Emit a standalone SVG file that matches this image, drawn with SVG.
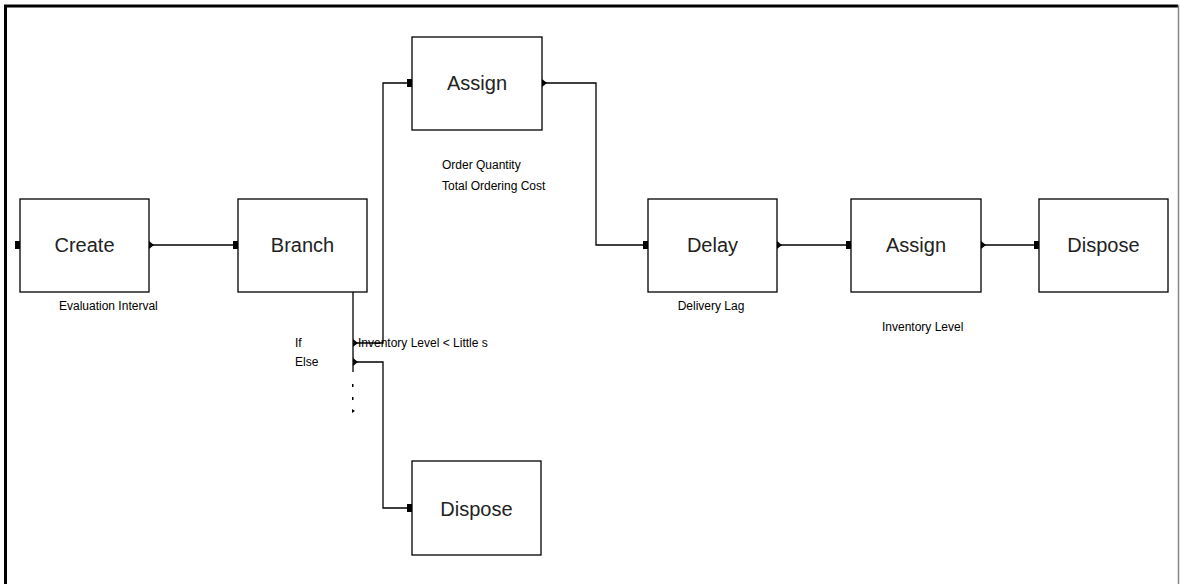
<svg xmlns="http://www.w3.org/2000/svg" width="1180" height="584" viewBox="0 0 1180 584">
<defs>
<style>
.box{fill:#fff;stroke:#000;stroke-width:1.3}
.t{font-family:"Liberation Sans",Arial,sans-serif;font-size:20px;fill:#222;text-anchor:middle}
.l{font-family:"Liberation Sans",Arial,sans-serif;font-size:12px;fill:#000}
.c{fill:none;stroke:#000;stroke-width:1.3}
.in{fill:#000}
</style>
</defs>
<rect width="1180" height="584" fill="#fff"/>
<path d="M5.5,584 V6 H1178" fill="none" stroke="#000" stroke-width="3"/>
<line x1="1178.5" y1="5" x2="1178.5" y2="584" stroke="#888" stroke-width="1.5"/>

<g id="connectors">
<path class="c" d="M149,245 H233"/>
<path class="c" d="M777,245 H846"/>
<path class="c" d="M981,245 H1034"/>
<path class="c" d="M542,83 H596 V245 H643"/>
<path class="c" d="M353,292 V372"/>
<path class="c" d="M356,343 H383 V83 H407"/>
<path class="c" d="M356,362 H383 V508 H407"/>
<path d="M149,241 L154,245 L149,249 Z" class="in"/>
<path d="M777,241 L782,245 L777,249 Z" class="in"/>
<path d="M981,241 L986,245 L981,249 Z" class="in"/>
<path d="M542,79 L547,83 L542,87 Z" class="in"/>
<path d="M353,339 L358,343 L353,347 Z" class="in"/>
<path d="M353,358 L358,362 L353,366 Z" class="in"/>
<rect x="352" y="384" width="1.5" height="3" class="in"/>
<rect x="352" y="397" width="1.5" height="3" class="in"/>
<path d="M352,409 L355,411 L352,413 Z" class="in"/>
</g>

<g id="create">
<rect class="box" x="20" y="199" width="129" height="93"/>
<rect x="15" y="241" width="5" height="8" class="in"/>
<text class="t" x="84.5" y="252">Create</text>
<text class="l" x="59" y="310">Evaluation Interval</text>
</g>
<g id="branch">
<rect class="box" x="238" y="199" width="129" height="93"/>
<rect x="233" y="241" width="5" height="8" class="in"/>
<text class="t" x="302.5" y="252">Branch</text>
<text class="l" x="295" y="347">If</text>
<text class="l" x="295" y="366">Else</text>
<text class="l" x="358" y="347">Inventory Level &lt; Little s</text>
</g>
<g id="assign1">
<rect class="box" x="412" y="37" width="130" height="93"/>
<rect x="407" y="79" width="5" height="8" class="in"/>
<text class="t" x="477" y="90">Assign</text>
<text class="l" x="442" y="169">Order Quantity</text>
<text class="l" x="442" y="190">Total Ordering Cost</text>
</g>
<g id="dispose1">
<rect class="box" x="412" y="461" width="129" height="94"/>
<rect x="407" y="504" width="5" height="8" class="in"/>
<text class="t" x="476.5" y="516">Dispose</text>
</g>
<g id="delay">
<rect class="box" x="648" y="199" width="129" height="93"/>
<rect x="643" y="241" width="5" height="8" class="in"/>
<text class="t" x="712.5" y="252">Delay</text>
<text class="l" x="711" y="310" text-anchor="middle">Delivery Lag</text>
</g>
<g id="assign2">
<rect class="box" x="851" y="199" width="130" height="93"/>
<rect x="846" y="241" width="5" height="8" class="in"/>
<text class="t" x="916" y="252">Assign</text>
<text class="l" x="882" y="331">Inventory Level</text>
</g>
<g id="dispose2">
<rect class="box" x="1039" y="199" width="129" height="93"/>
<rect x="1034" y="241" width="5" height="8" class="in"/>
<text class="t" x="1103.5" y="252">Dispose</text>
</g>
</svg>
